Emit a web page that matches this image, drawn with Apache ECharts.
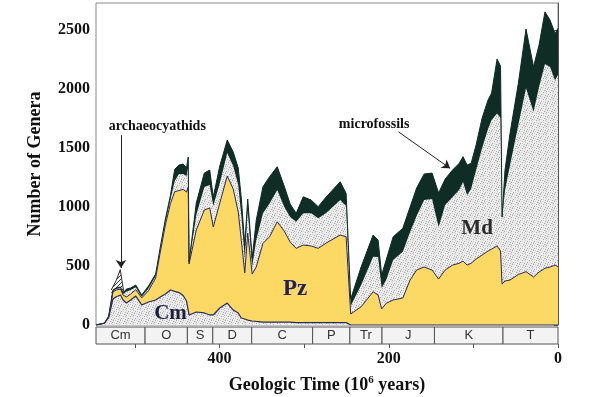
<!DOCTYPE html>
<html>
<head>
<meta charset="utf-8">
<script src="https://cdn.jsdelivr.net/npm/echarts@6/dist/echarts.min.js"></script>
<style>
	html, body { margin: 0; padding: 0; background: #fff; }
	#genera { width: 600px; height: 397px; }
</style>
</head>
<body>
<div id="genera"></div>
<script>
// ages in Myr before present (x), cumulative tops of each fauna (y, number of genera)
const ages = [546, 536, 531, 526, 522, 517, 514, 510, 505, 499, 492, 484, 475.5, 470, 464, 458, 453, 448, 443, 439, 437, 436,
	427.5, 418, 411.6, 407.4, 399.7, 390.9, 383.8, 377.9, 374.3, 370.2, 366.7, 361.4, 356.6, 348.7, 340.9, 331.8, 323.6, 316.5,
	309.4, 301.1, 291.7, 283.4, 274, 257.4, 250.4, 245, 232.6, 218.5, 212.6, 208.4, 203.1, 194.8, 183.4, 174.8, 167.1, 158.2,
	148.8, 141.1, 133.4, 124.6, 116.9, 112.2, 107.5, 102.7, 96.8, 89.7, 82.7, 78.5, 72, 67.9, 66.1, 62.6, 56.7, 46.9, 37.8,
	28.9, 22.4, 15.4, 9.4, 3.5, 0];
const cmTop = [0, 15, 65, 220, 240, 254, 212, 186, 212, 246, 170, 195, 212, 237, 263, 297, 285, 275, 250, 203, 195, 85,
	110, 102, 85, 85, 144, 186, 127, 102, 59, 51, 42, 34, 30, 25, 25, 25, 25, 25,
	20, 20, 20, 20, 20, 20, 20, 0, 0, 0, 0, 0, 0, 0, 0, 0, 0, 0,
	0, 0, 0, 0, 0, 0, 0, 0, 0, 0, 0, 0, 0, 0, 0, 0, 0, 0, 0,
	0, 0, 0, 0, 0, 0];
const pzTop = [0, 15, 68, 280, 297, 305, 254, 237, 263, 300, 230, 290, 398, 619, 848, 1030, 1130, 1140, 1150, 1127, 1170, 517,
	805, 975, 992, 831, 1034, 1263, 1153, 958, 720, 441, 780, 432, 492, 692, 748, 875, 797, 703,
	650, 678, 670, 650, 695, 763, 748, 93, 155, 282, 254, 136, 184, 212, 229, 381, 466, 492,
	466, 390, 466, 508, 523, 542, 508, 523, 559, 593, 627, 644, 670, 627, 347, 373, 381, 428, 452,
	407, 449, 481, 492, 508, 494];
const mdTop = [0, 15, 70, 288, 305, 314, 263, 285, 297, 320, 240, 310, 415, 644, 873, 1065, 1220, 1280, 1280, 1263, 1339, 525,
	932, 1170, 1187, 1009, 1203, 1458, 1347, 1187, 932, 568, 975, 500, 720, 947, 1031, 1144, 1003, 915,
	875, 947, 947, 904, 949, 1059, 1008, 161, 339, 579, 576, 314, 381, 551, 621, 788, 924, 1059,
	1068, 831, 1017, 1085, 1144, 1212, 1102, 1153, 1314, 1500, 1661, 1737, 1794, 1754, 907, 1144, 1356, 1695, 2009,
	1808, 2020, 2212, 2187, 2076, 2119];
const totalTop = [0, 17, 76, 297, 314, 322, 271, 305, 314, 339, 254, 330, 432, 661, 898, 1100, 1320, 1356, 1365, 1331, 1424, 534,
	1034, 1288, 1314, 1085, 1348, 1568, 1466, 1331, 1076, 678, 1068, 568, 890, 1172, 1257, 1342, 1178, 1025,
	947, 1087, 1059, 1003, 1085, 1214, 1116, 220, 494, 763, 720, 424, 551, 748, 820, 1000, 1161, 1280,
	1288, 1119, 1237, 1314, 1370, 1427, 1356, 1370, 1526, 1754, 1907, 1966, 2254, 2195, 915, 1314, 1625, 2048, 2509,
	2189, 2373, 2655, 2585, 2472, 2515];

// archaeocyathid spike (early Cambrian)
const archAges = [528, 522, 517.3, 513];
const archTop = [297, 380, 470, 271];

const periodNames = ['Cm', 'O', 'S', 'D', 'C', 'P', 'Tr', 'J', 'K', 'T'];
const periodBounds = [546, 488, 438, 408, 362, 290, 246, 208, 146, 65, 0];

const yTicks = [0, 500, 1000, 1500, 2000, 2500];
const xTickAges = [500, 400, 300, 200, 100, 0];
const xLabelAges = [400, 200, 0];

const serif = '"Liberation Serif", "DejaVu Serif", serif';
const YELLOW = '#fcd865';
const DARK = '#0f2c25';
const NAVY = '#2a2a55';

// fine grey stipple like the printed screen
function stipple() {
	let c = document.createElement('canvas');
	c.width = 7; c.height = 7;
	let g = c.getContext('2d');
	g.fillStyle = '#ededed';
	g.fillRect(0, 0, 7, 7);
	g.fillStyle = '#a8a8a8';
	[[0, 0], [4, 1], [2, 3], [6, 4], [1, 5], [5, 6]].forEach(p => g.fillRect(p[0], p[1], 1, 1));
	g.fillStyle = '#cbcbcb';
	[[2, 0], [6, 1], [0, 2], [4, 3], [3, 5], [6, 6], [1, 4]].forEach(p => g.fillRect(p[0], p[1], 1, 1));
	return c;
}

function hatch() {
	let c = document.createElement('canvas');
	c.width = 4; c.height = 4;
	let g = c.getContext('2d');
	g.fillStyle = '#f2f2f2';
	g.fillRect(0, 0, 4, 4);
	g.fillStyle = '#3a3a3a';
	for (let i = 0; i < 4; i++) g.fillRect(i, 3 - i, 1, 1);
	return c;
}

const pair = (xs, ys) => xs.map((a, i) => [a, ys[i]]);

let chart = echarts.init(document.getElementById('genera'));

let option = {
	animation: false,
	grid: [
		{ left: 96, right: 42, top: 3, height: 322, show: true, borderColor: '#8a8a8a', borderWidth: 1 },
		{ left: 96, right: 42, top: 327, height: 17 }
	],
	xAxis: [{
		gridIndex: 0, type: 'value', min: 0, max: 546, inverse: true, show: false
	}, {
		gridIndex: 1, type: 'value', min: 0, max: 546, inverse: true, interval: 100,
		axisLine: { show: false },
		axisTick: { show: true, length: 4, customValues: xTickAges, lineStyle: { color: '#555' } },
		axisLabel: {
			customValues: xLabelAges, margin: 7,
			formatter: v => String(v),
			fontFamily: serif, fontWeight: 'bold', fontSize: 16, color: '#111'
		},
		splitLine: { show: false },
		name: 'Geologic Time (10{sup|6} years)',
		nameLocation: 'middle', nameGap: 31,
		nameTextStyle: {
			fontFamily: serif, fontWeight: 'bold', fontSize: 18, color: '#111',
			rich: { sup: { fontFamily: serif, fontWeight: 'bold', fontSize: 11, color: '#111', verticalAlign: 'top', padding: [0, 0, 9, 0] } }
		}
	}],
	yAxis: [{
		gridIndex: 0, type: 'value', min: 0, max: 2730, interval: 500,
		axisLine: { show: true, lineStyle: { color: '#555' } },
		axisTick: { show: true, length: 4, customValues: yTicks, lineStyle: { color: '#555' } },
		axisLabel: {
			customValues: yTicks, margin: 6,
			formatter: v => String(v),
			fontFamily: serif, fontWeight: 'bold', fontSize: 16, color: '#111'
		},
		splitLine: { show: false },
		name: 'Number of Genera',
		nameLocation: 'middle', nameGap: 52,
		nameTextStyle: { fontFamily: serif, fontWeight: 'bold', fontSize: 18, color: '#111' }
	}, {
		gridIndex: 1, type: 'value', min: 0, max: 1, show: false
	}],
	series: [{
		name: 'archaeocyathids', type: 'line', data: pair(archAges, archTop), symbol: 'none',
		lineStyle: { color: '#333', width: 1 },
		areaStyle: { color: { image: hatch(), repeat: 'repeat' }, opacity: 1 }
	}, {
		name: 'microfossils', type: 'line', data: pair(ages, totalTop), symbol: 'none',
		lineStyle: { color: DARK, width: 1 },
		areaStyle: { color: DARK, opacity: 1 }
	}, {
		name: 'Md', type: 'line', data: pair(ages, mdTop), symbol: 'none',
		lineStyle: { width: 0 },
		areaStyle: { color: { image: stipple(), repeat: 'repeat' }, opacity: 1 }
	}, {
		name: 'Pz', type: 'line', data: pair(ages, pzTop), symbol: 'none',
		lineStyle: { color: NAVY, width: 1 },
		areaStyle: { color: YELLOW, opacity: 1 }
	}, {
		name: 'Cm', type: 'line', data: pair(ages, cmTop), symbol: 'none',
		lineStyle: { color: NAVY, width: 1.2 },
		areaStyle: { color: { image: stipple(), repeat: 'repeat' }, opacity: 1 },
		markPoint: {
			symbol: 'circle', symbolSize: 0, silent: true,
			label: { show: true, position: 'inside', fontFamily: serif, fontWeight: 'bold', formatter: '{b}' },
			data: [
				{ name: 'archaeocyathids', coord: [473.5, 1686], label: { fontSize: 14, color: '#111' } },
				{ name: 'microfossils', coord: [217.3, 1703], label: { fontSize: 14, color: '#111' } },
				{ name: 'Cm', coord: [458, 97], label: { fontSize: 21, color: '#1d1d3d' } },
				{ name: 'Pz', coord: [310.6, 305], label: { fontSize: 23, color: '#22235a' } },
				{ name: 'Md', coord: [95.6, 814], label: { fontSize: 21, color: '#2a2a2a' } }
			]
		},
		markLine: {
			silent: true, symbol: ['none', 'arrow'], symbolSize: 8,
			label: { show: false },
			lineStyle: { color: '#222', width: 1, type: 'solid' },
			data: [
				[{ coord: [516.5, 1610] }, { coord: [516.5, 483] }],
				[{ coord: [188.6, 1638] }, { coord: [127.5, 1328] }]
			]
		}
	}, {
		name: 'periods', type: 'custom', xAxisIndex: 1, yAxisIndex: 1,
		data: periodNames.map((n, i) => [periodBounds[i], periodBounds[i + 1]]),
		renderItem: (params, api) => {
			let s = api.coord([api.value(0), 1]);
			let e = api.coord([api.value(1), 0]);
			return {
				type: 'group',
				children: [{
					type: 'rect',
					shape: { x: s[0], y: s[1], width: e[0] - s[0], height: e[1] - s[1] },
					style: { fill: '#f3f3f3', stroke: '#555', lineWidth: 1 }
				}, {
					type: 'text',
					style: {
						text: periodNames[params.dataIndex],
						x: (s[0] + e[0]) / 2, y: (s[1] + e[1]) / 2,
						align: 'center', verticalAlign: 'middle',
						font: '13px "Liberation Sans", Arial, sans-serif', fill: '#333'
					}
				}]
			};
		}
	}]
};

chart.setOption(option);
</script>
</body>
</html>
